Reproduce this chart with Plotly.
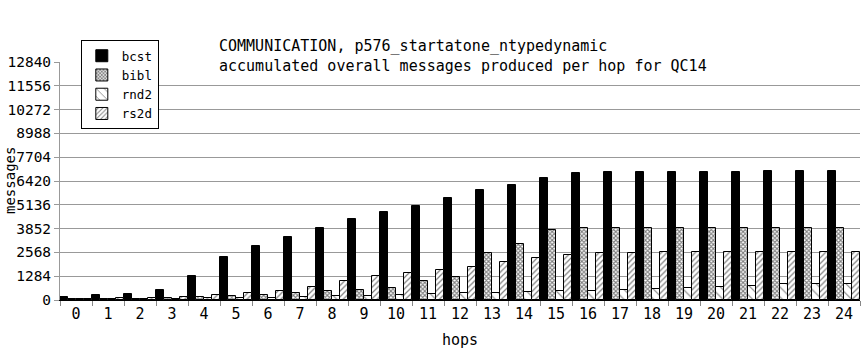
import plotly.graph_objects as go

hops = [str(i) for i in range(25)]
bcst = [160, 280, 335, 550, 1310, 2330, 2920, 3405, 3890, 4380, 4760, 5080, 5510,
        5950, 6220, 6600, 6870, 6920, 6920, 6920, 6920, 6920, 6975, 6975, 6975]
bibl = [40, 40, 50, 120, 160, 220, 270, 370, 470, 520, 630, 1010, 1240,
        2520, 3010, 3770, 3870, 3870, 3870, 3870, 3870, 3870, 3870, 3870, 3870]
rnd2 = [40, 50, 60, 60, 90, 110, 110, 144, 216, 216, 252, 306, 360,
        360, 414, 468, 468, 522, 576, 630, 684, 739, 847, 847, 847]
rs2d = [50, 90, 100, 160, 270, 380, 490, 684, 1009, 1279, 1441, 1604, 1766,
        2037, 2253, 2415, 2523, 2523, 2570, 2570, 2570, 2570, 2570, 2570, 2570]
yticks = [0, 1284, 2568, 3852, 5136, 6420, 7704, 8988, 10272, 11556, 12840]

FONT = "DejaVu Sans Mono"

fig = go.Figure()
series = [
    ("bcst", bcst, dict(color="black")),
    ("bibl", bibl, dict(color="white", pattern=dict(shape="x", size=3, solidity=0.6,
                                                    fgcolor="black", bgcolor="white"))),
    ("rnd2", rnd2, dict(color="white", pattern=dict(shape="\\", size=7, solidity=0.15,
                                                    fgcolor="black", bgcolor="white"))),
    ("rs2d", rs2d, dict(color="white", pattern=dict(shape="/", size=4, solidity=0.3,
                                                    fgcolor="black", bgcolor="white"))),
]
for name, vals, mk in series:
    mk = dict(mk)
    mk["line"] = dict(color="black", width=1)
    fig.add_trace(go.Bar(x=hops, y=vals, name=name, marker=mk))

fig.update_layout(
    width=862, height=360,
    margin=dict(l=60, r=2, t=62, b=60, autoexpand=False),
    paper_bgcolor="white", plot_bgcolor="white",
    barmode="group", bargap=0, bargroupgap=0,
    font=dict(family=FONT, size=13, color="black"),
    showlegend=True,
    legend=dict(x=0.026, y=1.092, xanchor="left", yanchor="top",
                bordercolor="black", borderwidth=1, bgcolor="white",
                font=dict(family=FONT, size=12.5), tracegroupgap=0,
                itemwidth=30),
    annotations=[
        dict(text="COMMUNICATION, p576_startatone_ntypedynamic<br>accumulated overall messages produced per hop for QC14",
             xref="paper", yref="paper", x=(217 - 60) / 800, y=1.115,
             xanchor="left", yanchor="top", align="left", showarrow=False,
             font=dict(family=FONT, size=15, color="black")),
        dict(text="messages", textangle=-90, xref="paper", yref="paper",
             x=(10 - 60) / 800, y=0.5, xanchor="center", yanchor="middle",
             showarrow=False, font=dict(family=FONT, size=14, color="black")),
    ],
)
fig.update_xaxes(
    type="category", showgrid=False, showline=True, linecolor="black", linewidth=1,
    ticks="outside", tickson="boundaries", ticklen=5, tickcolor="#888",
    tickfont=dict(family=FONT, size=15), automargin=False,
    title=dict(text="hops", font=dict(family=FONT, size=15), standoff=12),
)
fig.update_yaxes(
    range=[0, 12840], tickmode="array", tickvals=yticks, ticktext=[str(v) for v in yticks],
    showgrid=True, gridcolor="#999", gridwidth=1, zeroline=False,
    showline=True, linecolor="#999", linewidth=1,
    ticks="outside", ticklen=5, tickcolor="#999",
    tickfont=dict(family=FONT, size=14.5), automargin=False,
)

fig.write_html("out.html", config={"displayModeBar": False},
               post_script="document.body.style.margin='0px';")
